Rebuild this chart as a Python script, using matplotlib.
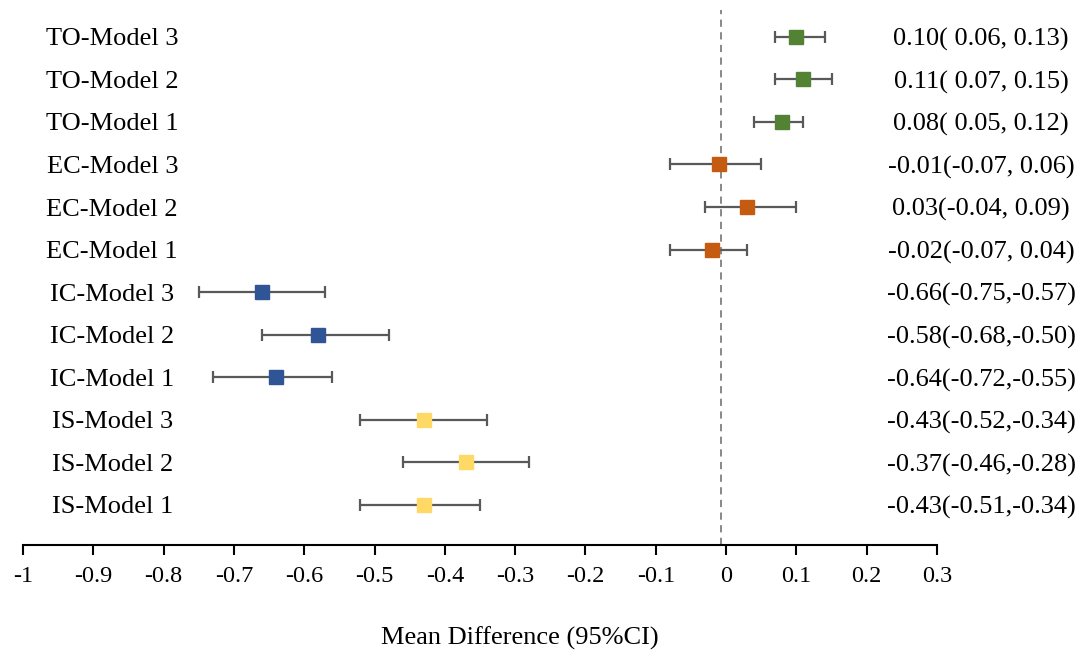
import matplotlib.pyplot as plt
import numpy as np

plt.rcParams['font.family'] = ['Liberation Serif', 'DejaVu Serif']
plt.rcParams['axes.unicode_minus'] = False

# rows, top to bottom
labels = ['TO-Model 3', 'TO-Model 2', 'TO-Model 1',
          'EC-Model 3', 'EC-Model 2', 'EC-Model 1',
          'IC-Model 3', 'IC-Model 2', 'IC-Model 1',
          'IS-Model 3', 'IS-Model 2', 'IS-Model 1']
est = [0.10, 0.11, 0.08, -0.01, 0.03, -0.02, -0.66, -0.58, -0.64, -0.43, -0.37, -0.43]
# whiskers as drawn in the picture
lo = [0.07, 0.07, 0.04, -0.08, -0.03, -0.08, -0.75, -0.66, -0.73, -0.52, -0.46, -0.52]
hi = [0.14, 0.15, 0.11, 0.05, 0.10, 0.03, -0.57, -0.48, -0.56, -0.34, -0.28, -0.35]
ci_text = ['0.10( 0.06, 0.13)', '0.11( 0.07, 0.15)', '0.08( 0.05, 0.12)',
           '-0.01(-0.07, 0.06)', '0.03(-0.04, 0.09)', '-0.02(-0.07, 0.04)',
           '-0.66(-0.75,-0.57)', '-0.58(-0.68,-0.50)', '-0.64(-0.72,-0.55)',
           '-0.43(-0.52,-0.34)', '-0.37(-0.46,-0.28)', '-0.43(-0.51,-0.34)']
group_colors = {'TO': '#548235', 'EC': '#C55A11', 'IC': '#2F5597', 'IS': '#FFD966'}
xticks = [-1, -0.9, -0.8, -0.7, -0.6, -0.5, -0.4, -0.3, -0.2, -0.1, 0, 0.1, 0.2, 0.3]

n = len(labels)
ypos = np.arange(n)[::-1]
est = np.array(est)
lo = np.array(lo)
hi = np.array(hi)

fig = plt.figure(figsize=(10.83, 6.57), dpi=100)
ax = fig.add_axes([0.0212, 0.1705, 0.8440, 0.8143])

ax.axvline(-0.007, color='#7f7f7f', lw=1.3, ls=(0, (4, 3)), zorder=1)

for i in range(n):
    c = group_colors[labels[i][:2]]
    ax.errorbar(est[i], ypos[i], xerr=[[est[i] - lo[i]], [hi[i] - est[i]]],
                fmt='s', color=c, ms=10.5, mec=c,
                ecolor='#595959', elinewidth=1.6, capsize=4.5, capthick=1.6,
                zorder=3)
    ax.text(-0.873, ypos[i], labels[i], ha='center', va='center_baseline', fontsize=19)
    ax.text(0.3627, ypos[i], ci_text[i], ha='center', va='center_baseline', fontsize=19,
            clip_on=False)

ax.set_xlim(-1, 0.3)
ax.set_ylim(-0.94, 11.63)
ax.set_xticks(xticks)
ax.set_xticklabels(['%g' % t for t in xticks], fontsize=17.5)
ax.set_yticks([])
for s in ['top', 'right', 'left']:
    ax.spines[s].set_visible(False)
ax.spines['bottom'].set_linewidth(1.5)
ax.tick_params(axis='x', length=7, width=1.5, pad=8)

fig.text(0.48, 0.029, 'Mean Difference (95%CI)', ha='center', va='center', fontsize=19)

fig.savefig('out.png', dpi=100)
